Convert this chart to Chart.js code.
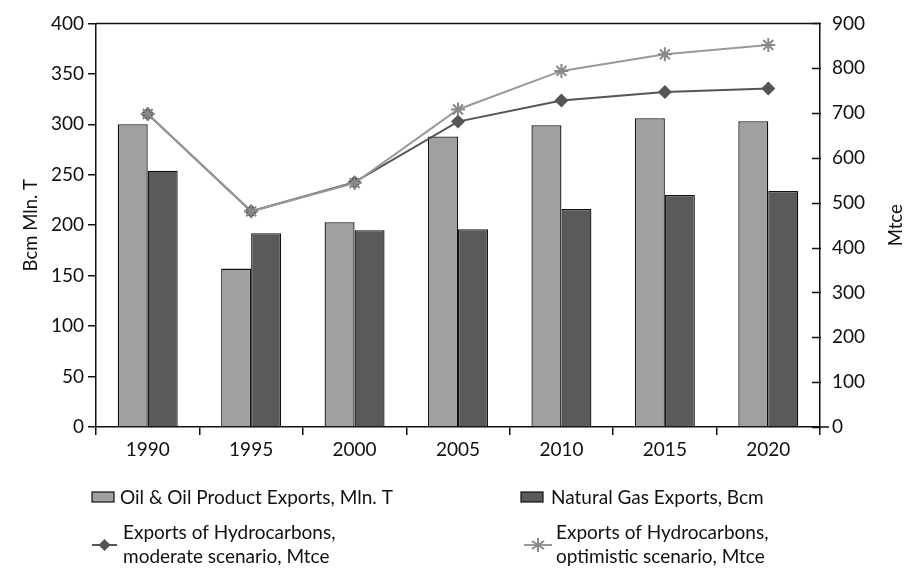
<!DOCTYPE html>
<html>
<head>
<meta charset="utf-8">
<script src="https://cdn.jsdelivr.net/npm/chart.js@4"></script>
<style>
  body { margin: 0; background: #fff; }
  #wrap { position: relative; width: 913px; height: 570px; }
</style>
</head>
<body>
<div id="wrap"><canvas id="exportsChart"></canvas></div>
<script>
// data
const years = ['1990', '1995', '2000', '2005', '2010', '2015', '2020'];
const oilExports = [300, 157, 203, 288, 299, 306, 303];
const gasExports = [254, 192, 195, 196, 216, 230, 234];
const moderateMtce = [698, 481, 546, 681, 728, 747, 755];
const optimisticMtce = [698, 481, 544, 708, 794, 831, 852];

const leftTitle = 'Bcm Mln. T';
const rightTitle = 'Mtce';
const legendLabels = [
    ['Oil & Oil Product Exports, Mln. T'],
    ['Natural Gas Exports, Bcm'],
    ['Exports of Hydrocarbons,', 'moderate scenario, Mtce'],
    ['Exports of Hydrocarbons,', 'optimistic scenario, Mtce']
];

const FONT = 'Lato, "Noto Sans", sans-serif';
const oilColor = '#a0a0a0';
const gasColor = '#5a5a5a';
const modColor = '#555555';
const optColor = '#999999';

// extra drawing: top frame line, inner ticks on the right axis, titles, legend
const extras = {
    id: 'extras',
    afterDraw(chart) {
        const ctx = chart.ctx;
        const area = chart.chartArea;
        const y1 = chart.scales.y1;
        ctx.save();
        ctx.strokeStyle = '#111';
        ctx.lineWidth = 1.5;

        // top line of the frame
        ctx.beginPath();
        ctx.moveTo(area.left, area.top);
        ctx.lineTo(area.right, area.top);
        ctx.stroke();

        // x axis runs a bit past the right axis
        ctx.beginPath();
        ctx.moveTo(area.right, area.bottom);
        ctx.lineTo(area.right + 9, area.bottom);
        ctx.stroke();

        // right axis tick marks point inwards
        y1.ticks.forEach(function(t) {
            const py = Math.round(y1.getPixelForValue(t.value)) + 0.5;
            ctx.beginPath();
            ctx.moveTo(area.right - 8, py);
            ctx.lineTo(area.right + 1, py);
            ctx.stroke();
        });

        // axis titles
        ctx.fillStyle = '#111';
        ctx.font = '18.5px ' + FONT;
        ctx.textAlign = 'center';
        ctx.textBaseline = 'middle';
        const midY = (area.top + area.bottom) / 2;
        [[31, leftTitle], [896, rightTitle]].forEach(function(t) {
            ctx.save();
            ctx.translate(t[0], midY);
            ctx.rotate(-Math.PI / 2);
            ctx.fillText(t[1], 0, 0);
            ctx.restore();
        });

        // legend
        ctx.textAlign = 'left';
        ctx.font = '19px ' + FONT;
        function box(x, y, color) {
            ctx.fillStyle = color;
            ctx.fillRect(x, y, 22, 10);
            ctx.lineWidth = 1.2;
            ctx.strokeStyle = '#111';
            ctx.strokeRect(x, y, 22, 10);
        }
        function text(x, y, lines) {
            ctx.fillStyle = '#111';
            lines.forEach(function(l, i) { ctx.fillText(l, x, y + i * 24); });
        }
        box(92, 492, oilColor);
        text(120, 498, legendLabels[0]);
        box(521, 492, gasColor);
        text(551, 498, legendLabels[1]);

        // moderate line marker
        ctx.strokeStyle = modColor;
        ctx.lineWidth = 2;
        ctx.beginPath();
        ctx.moveTo(92, 545); ctx.lineTo(117, 545); ctx.stroke();
        ctx.fillStyle = modColor;
        ctx.beginPath();
        ctx.moveTo(104.5, 539); ctx.lineTo(110.5, 545); ctx.lineTo(104.5, 551); ctx.lineTo(98.5, 545);
        ctx.closePath(); ctx.fill();
        text(123, 533, legendLabels[2]);

        // optimistic line marker
        ctx.strokeStyle = optColor;
        ctx.beginPath();
        ctx.moveTo(524, 545); ctx.lineTo(552, 545); ctx.stroke();
        ctx.strokeStyle = '#888';
        ctx.beginPath();
        ctx.moveTo(538, 538); ctx.lineTo(538, 552);
        ctx.moveTo(532, 541); ctx.lineTo(544, 549);
        ctx.moveTo(532, 549); ctx.lineTo(544, 541);
        ctx.stroke();
        text(556, 533, legendLabels[3]);

        ctx.restore();
    }
};

const ctx = document.getElementById('exportsChart').getContext('2d');
new Chart(ctx, {
    type: 'bar',
    data: {
        labels: years,
        datasets: [
            {
                type: 'line',
                label: legendLabels[2].join(' '),
                data: moderateMtce,
                yAxisID: 'y1',
                borderColor: modColor,
                borderWidth: 2,
                backgroundColor: modColor,
                pointStyle: 'rectRot',
                pointRadius: 7,
                pointBorderWidth: 0,
                order: 1
            },
            {
                type: 'line',
                label: legendLabels[3].join(' '),
                data: optimisticMtce,
                yAxisID: 'y1',
                borderColor: optColor,
                borderWidth: 2,
                backgroundColor: optColor,
                pointStyle: 'star',
                pointRadius: 7,
                pointBorderColor: '#888',
                pointBorderWidth: 2,
                order: 0
            },
            {
                label: legendLabels[0][0],
                data: oilExports,
                yAxisID: 'y',
                backgroundColor: oilColor,
                borderColor: '#111',
                borderWidth: 1.3,
                categoryPercentage: 0.58,
                barPercentage: 1,
                order: 2
            },
            {
                label: legendLabels[1][0],
                data: gasExports,
                yAxisID: 'y',
                backgroundColor: gasColor,
                borderColor: '#111',
                borderWidth: 1.3,
                categoryPercentage: 0.58,
                barPercentage: 1,
                order: 2
            }
        ]
    },
    options: {
        responsive: true,
        maintainAspectRatio: false,
        animation: false,
        layout: { padding: { top: 18, left: 0, right: 0, bottom: 0 } },
        plugins: {
            legend: { display: false },
            tooltip: { enabled: false }
        },
        scales: {
            x: {
                offset: true,
                afterFit: function(s) { s.height = 143; },
                grid: {
                    offset: true,
                    drawOnChartArea: false,
                    drawTicks: true,
                    tickLength: 8,
                    color: '#111',
                    lineWidth: 1.5
                },
                border: { color: '#111', width: 1.5 },
                ticks: { color: '#111', font: { family: FONT, size: 19 }, padding: 3, maxRotation: 0 }
            },
            y: {
                position: 'left',
                min: 0,
                max: 400,
                afterFit: function(s) { s.width = 96; },
                grid: {
                    drawOnChartArea: false,
                    drawTicks: true,
                    tickLength: 8,
                    color: '#111',
                    lineWidth: 1.5
                },
                border: { color: '#111', width: 1.5 },
                ticks: { stepSize: 50, color: '#111', font: { family: FONT, size: 19 }, padding: 4 }
            },
            y1: {
                position: 'right',
                min: 0,
                max: 900,
                afterFit: function(s) { s.width = 93; },
                grid: {
                    drawOnChartArea: false,
                    drawTicks: false,
                    color: '#111'
                },
                border: { color: '#111', width: 1.5 },
                ticks: { stepSize: 100, color: '#111', font: { family: FONT, size: 19 }, padding: 12 }
            }
        }
    },
    plugins: [extras]
});
</script>
</body>
</html>
